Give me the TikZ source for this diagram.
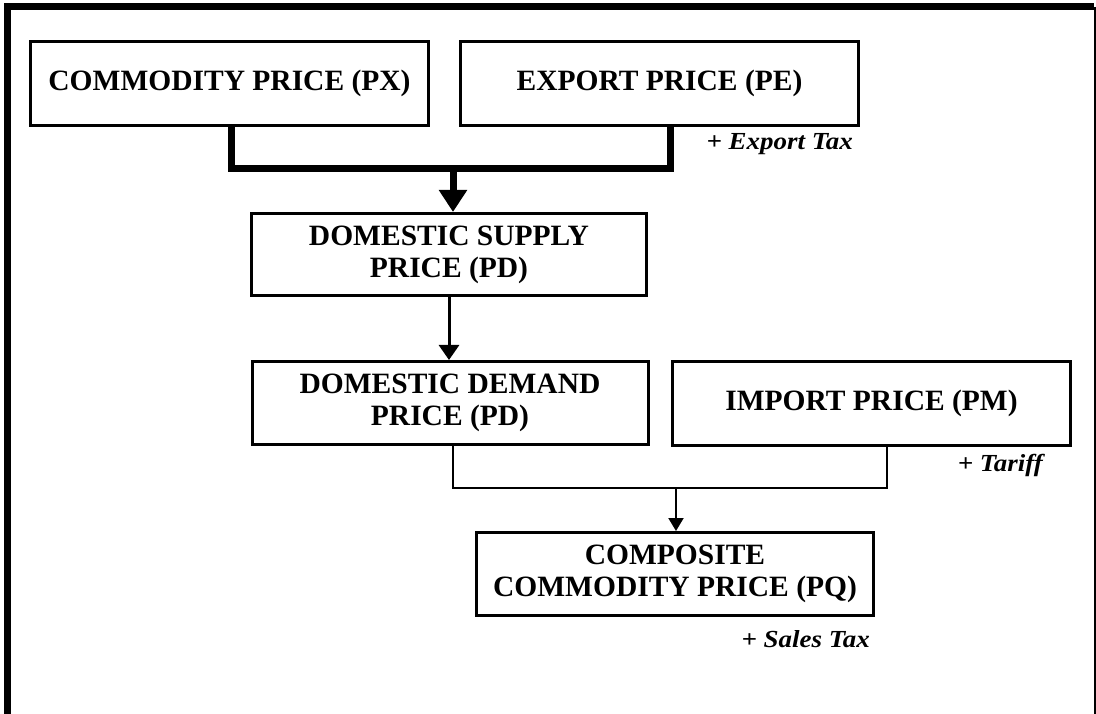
\documentclass[tikz,border=0pt]{standalone}
\usepackage{fontspec}
\setmainfont{Liberation Serif}
\newfontfamily\lblfont[FakeStretch=1.1]{Liberation Serif}
\usetikzlibrary{arrows.meta}
\begin{document}
\begin{tikzpicture}[x=1pt,y=-1pt,
  box/.style={draw, line width=3pt, inner sep=0pt, align=center,
    font=\fontsize{29.5}{32}\selectfont\bfseries,
    minimum width=398pt, minimum height=84pt},
  lbl/.style={font=\lblfont\fontsize{24.5}{28}\selectfont\bfseries\itshape, inner sep=0pt},
  bigconn/.style={line width=7pt, line join=miter},
  midconn/.style={line width=3pt},
  thinconn/.style={line width=2pt, line join=miter},
  frameline/.style={line width=7pt, line join=miter}]
\useasboundingbox (0,0) rectangle (1096,714);
\begin{scope}
  \clip (0,0) rectangle (1096,714);
  \draw[frameline] (7.5,730) -- (7.5,7) -- (1094,7);
  \draw[line width=2pt] (1094.5,7) -- (1094.5,730);
\end{scope}

\node[box] (px) at (229.5,83.5) {COMMODITY PRICE (PX)};
\node[box] (pe) at (659.5,83.5) {EXPORT PRICE (PE)};
\node[box, minimum width=395pt, minimum height=82pt] (ds) at (449,254.5) {DOMESTIC SUPPLY\\PRICE (PD)};
\node[box, minimum width=396pt, minimum height=83pt] (dd) at (450,403) {DOMESTIC DEMAND\\PRICE (PD)};
\node[box] (pm) at (871.5,403.5) {IMPORT PRICE (PM)};
\node[box, minimum width=397pt, minimum height=83pt] (pq) at (675,574) {COMPOSITE\\COMMODITY PRICE (PQ)};

\node[lbl, anchor=east] (etax) at (853,144) {+ Export Tax};
\node[lbl, anchor=east] (tariff) at (1043,465) {+ Tariff};
\node[lbl, anchor=east] (stax) at (870,639) {+ Sales Tax};

\coordinate (j1) at (453,168.5);
\draw[bigconn] ([xshift=1.5pt]px.south) |- (j1) -| ([xshift=10.5pt]pe.south);
\draw[bigconn, -{Triangle[width=27pt,length=22pt]}] (j1) -- (j1 |- ds.north);

\draw[midconn, -{Triangle[width=20pt,length=15pt]}] (ds.south) -- (ds.south |- dd.north);

\coordinate (j2) at (676,488);
\draw[thinconn] ([xshift=3pt]dd.south) |- (j2) -| ([xshift=15.5pt]pm.south);
\draw[thinconn, -{Triangle[width=15pt,length=13pt]}] (j2) -- (j2 |- pq.north);
\end{tikzpicture}
\end{document}
